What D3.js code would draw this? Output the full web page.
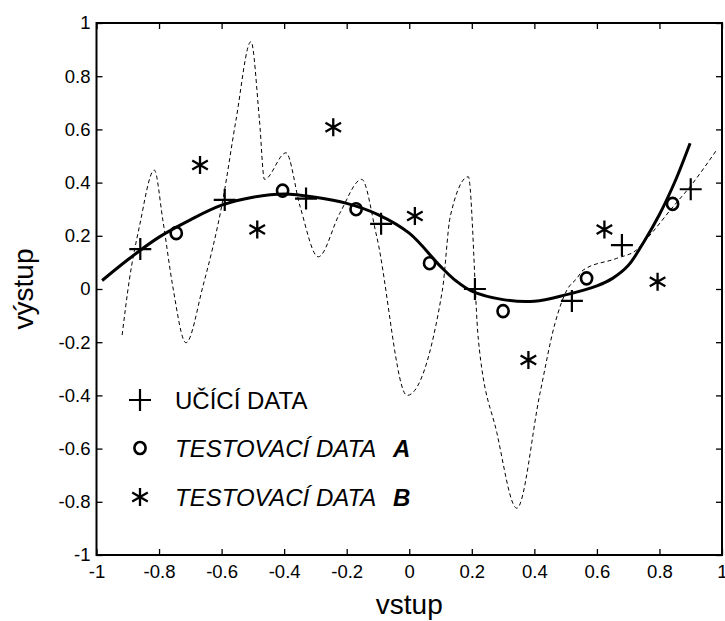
<!DOCTYPE html>
<html>
<head>
<meta charset="utf-8">
<script src="https://cdn.jsdelivr.net/npm/d3@7"></script>
<style>
  body { margin: 0; background: #fff; }
  text { font-family: "Liberation Sans", Arial, sans-serif; fill: #000; }
</style>
</head>
<body>
<svg id="main_svg" width="725" height="621"></svg>
<script>
// ticks
const xTicks = [-1, -0.8, -0.6, -0.4, -0.2, 0, 0.2, 0.4, 0.6, 0.8, 1];
const xTickLabels = ["-1", "-0.8", "-0.6", "-0.4", "-0.2", "0", "0.2", "0.4", "0.6", "0.8", "1"];
const yTicks = [-1, -0.8, -0.6, -0.4, -0.2, 0, 0.2, 0.4, 0.6, 0.8, 1];
const yTickLabels = ["-1", "-0.8", "-0.6", "-0.4", "-0.2", "0", "0.2", "0.4", "0.6", "0.8", "1"];

// učící data (+)
const trainX = [-0.86, -0.59, -0.33, -0.09, 0.21, 0.52, 0.68, 0.9];
const trainY = [0.15, 0.335, 0.34, 0.245, 0.0, -0.045, 0.165, 0.375];

// testovací data A (o)
const testAX = [-0.745, -0.405, -0.17, 0.065, 0.3, 0.567, 0.842];
const testAY = [0.21, 0.37, 0.3, 0.097, -0.083, 0.04, 0.32];

// testovací data B (*)
const testBX = [-0.669, -0.486, -0.243, 0.018, 0.381, 0.624, 0.794];
const testBY = [0.466, 0.224, 0.608, 0.274, -0.267, 0.224, 0.027];

// aproximace (plná čára)
const fitX = [-0.982, -0.9, -0.8, -0.7, -0.6, -0.5, -0.4, -0.3, -0.2, -0.1, 0, 0.1, 0.15, 0.2, 0.3, 0.4, 0.5, 0.6, 0.65, 0.7, 0.75, 0.8, 0.85, 0.898];
const fitY = [0.032, 0.11, 0.195, 0.26, 0.315, 0.345, 0.357, 0.345, 0.322, 0.28, 0.21, 0.085, 0.03, -0.008, -0.04, -0.046, -0.022, 0.012, 0.04, 0.088, 0.177, 0.28, 0.405, 0.548];

// přeučená síť (čárkovaná čára)
const overX = [-0.918, -0.895, -0.863, -0.815, -0.788, -0.756, -0.714, -0.66, -0.596, -0.554, -0.506, -0.479, -0.463, -0.394, -0.349, -0.291, -0.222, -0.152, -0.104, -0.007, 0.106, 0.131, 0.189, 0.221, 0.28, 0.344, 0.418, 0.466, 0.504, 0.536, 0.556, 0.663, 0.727, 0.77, 0.844, 0.898, 0.983];
const overY = [-0.173, 0.034, 0.234, 0.447, 0.26, 0.009, -0.202, 0.009, 0.335, 0.635, 0.93, 0.635, 0.412, 0.512, 0.31, 0.121, 0.285, 0.412, 0.197, -0.4, -0.004, 0.272, 0.422, -0.19, -0.54, -0.824, -0.392, -0.129, -0.004, 0.04, 0.071, 0.115, 0.147, 0.203, 0.31, 0.385, 0.523];

const legendLabels = ["UČÍCÍ DATA", "TESTOVACÍ DATA", "TESTOVACÍ DATA"];
const legendSuffix = ["", "A", "B"];

const svg = d3.select("#main_svg");
const pLeft = 96.5, pRight = 722, pTop = 23, pBottom = 555;

const x = d3.scaleLinear().domain([-1, 1]).range([pLeft, pRight]);
const y = d3.scaleLinear().domain([-1, 1]).range([pBottom, pTop]);

// curves
svg.append("path")
   .attr("d", d3.line().x(d => x(d[0])).y(d => y(d[1])).curve(d3.curveMonotoneX)(d3.zip(overX, overY)))
   .attr("fill", "none")
   .attr("stroke", "#000")
   .attr("stroke-width", 1)
   .attr("stroke-dasharray", "4,3");

svg.append("path")
   .attr("d", d3.line().x(d => x(d[0])).y(d => y(d[1])).curve(d3.curveCatmullRom)(d3.zip(fitX, fitY)))
   .attr("fill", "none")
   .attr("stroke", "#000")
   .attr("stroke-width", 3);

// markers
function plus(g, cx, cy) {
    g.append("path")
     .attr("d", `M${cx - 11},${cy}H${cx + 11}M${cx},${cy - 11}V${cy + 11}`)
     .attr("stroke", "#000").attr("stroke-width", 2.2).attr("fill", "none");
}
function ring(g, cx, cy) {
    g.append("ellipse")
     .attr("cx", cx).attr("cy", cy).attr("rx", 5.6).attr("ry", 6)
     .attr("stroke", "#000").attr("stroke-width", 2.6).attr("fill", "none");
}
function star(g, cx, cy) {
    let r = 9, d = "";
    [90, 30, 150].forEach(a => {
        let dx = r * Math.cos(a * Math.PI / 180), dy = r * Math.sin(a * Math.PI / 180);
        d += `M${cx - dx},${cy - dy}L${cx + dx},${cy + dy}`;
    });
    g.append("path").attr("d", d)
     .attr("stroke", "#000").attr("stroke-width", 2.3).attr("fill", "none");
}

const marks = svg.append("g");
trainX.forEach((v, i) => plus(marks, x(v), y(trainY[i])));
testAX.forEach((v, i) => ring(marks, x(v), y(testAY[i])));
testBX.forEach((v, i) => star(marks, x(v), y(testBY[i])));

// axes box with inner ticks
const tl = 6;
const axisStyle = g => {
    g.select(".domain").remove();
    g.selectAll(".tick line").attr("stroke", "#000").attr("stroke-width", 1.3);
};
svg.append("g").attr("transform", `translate(0,${pBottom})`)
   .call(d3.axisBottom(x).tickValues(xTicks).tickSize(-tl).tickFormat((d, i) => xTickLabels[i]))
   .call(axisStyle)
   .call(g => g.selectAll(".tick text").attr("y", 10).attr("font-size", 18.5).attr("font-family", "Liberation Sans"));
svg.append("g").attr("transform", `translate(0,${pTop})`)
   .call(d3.axisTop(x).tickValues(xTicks).tickSize(-tl).tickFormat(""))
   .call(axisStyle);
svg.append("g").attr("transform", `translate(${pLeft},0)`)
   .call(d3.axisLeft(y).tickValues(yTicks).tickSize(-tl).tickFormat((d, i) => yTickLabels[i]))
   .call(axisStyle)
   .call(g => g.selectAll(".tick text").attr("x", -6).attr("font-size", 18.5).attr("font-family", "Liberation Sans"));
svg.append("g").attr("transform", `translate(${pRight},0)`)
   .call(d3.axisRight(y).tickValues(yTicks).tickSize(-tl).tickFormat(""))
   .call(axisStyle);

svg.append("rect")
   .attr("x", pLeft).attr("y", pTop)
   .attr("width", pRight - pLeft).attr("height", pBottom - pTop)
   .attr("fill", "none").attr("stroke", "#000").attr("stroke-width", 2);

// axis labels
svg.append("text")
   .attr("x", (pLeft + pRight) / 2).attr("y", 614)
   .attr("text-anchor", "middle").attr("font-size", 28)
   .text("vstup");
svg.append("text")
   .attr("transform", `translate(33,${(pTop + pBottom) / 2}) rotate(-90)`)
   .attr("text-anchor", "middle").attr("font-size", 28)
   .text("výstup");

// legend
const legY = [400, 448, 497];
const leg = svg.append("g");
plus(leg, 140, legY[0]);
ring(leg, 140, legY[1]);
star(leg, 140, legY[2]);
legendLabels.forEach((t, i) => {
    let tx = leg.append("text")
        .attr("x", 175).attr("y", legY[i] + 8.5)
        .attr("font-size", 24)
        .attr("font-style", i > 0 ? "italic" : "normal");
    tx.append("tspan").text(t);
    if (legendSuffix[i]) {
        tx.append("tspan").attr("x", 393).attr("font-weight", "bold").text(legendSuffix[i]);
    }
});
</script>
</body>
</html>
